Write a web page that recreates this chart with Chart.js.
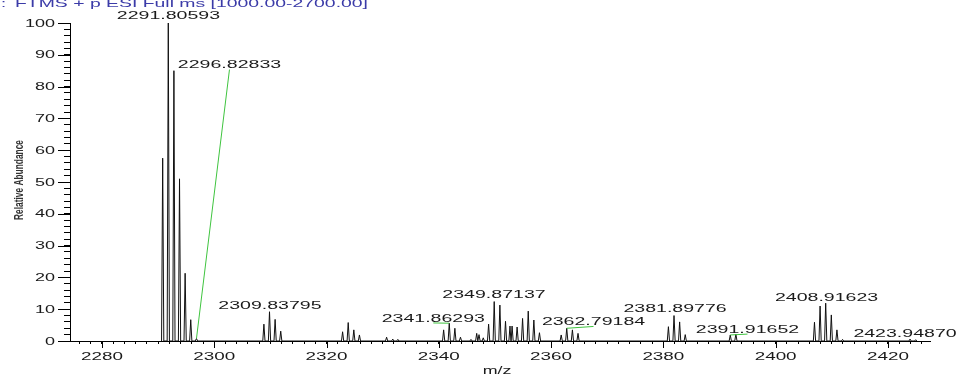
<!DOCTYPE html>
<html>
<head>
<meta charset="utf-8">
<script src="https://cdn.jsdelivr.net/npm/chart.js@4"></script>
<style>
    body { margin: 0; background: #fff; }
    canvas { display: block; }
</style>
</head>
<body>
<canvas id="spectrum" width="958" height="375"></canvas>
<script>
// peak centroids (m/z) and relative abundance
const peakMz = [2290.81, 2291.81, 2292.81, 2293.81, 2294.81, 2295.81, 2296.83,
    2308.84, 2309.84, 2310.84, 2311.84,
    2322.86, 2323.86, 2324.86, 2325.86,
    2330.70, 2331.80, 2332.70,
    2340.86, 2341.86, 2342.86, 2343.86,
    2345.73, 2346.75, 2347.16, 2347.92, 2348.87, 2349.87, 2350.88, 2351.88,
    2352.68, 2353.05, 2353.95, 2354.92, 2355.93, 2356.93, 2357.93,
    2361.80, 2362.79, 2363.80, 2364.80,
    2380.90, 2381.90, 2382.90, 2383.90,
    2391.92, 2392.92,
    2406.92, 2407.92, 2408.92, 2409.92, 2410.92, 2411.92,
    2423.95, 2424.95];
const peakAbund = [57.5, 100, 85, 51, 21.3, 6.7, 0.8,
    5.3, 9.2, 6.8, 3.1,
    2.9, 5.8, 3.5, 1.9,
    1.2, 0.6, 0.5,
    3.5, 5.6, 4.0, 1.2,
    0.5, 2.4, 2.0, 1.0, 5.3, 12.4, 11.3, 6.2,
    4.7, 4.7, 4.4, 7.1, 9.4, 6.6, 2.6,
    1.9, 4.0, 3.5, 2.4,
    4.5, 8.0, 6.0, 2.0,
    1.9, 2.2,
    5.9, 11.0, 11.9, 8.2, 3.5, 0.5,
    0.6, 0.4];

// labelled peaks
const labelText = ["2291.80593", "2296.82833", "2309.83795", "2341.86293", "2349.87137",
    "2362.79184", "2381.89776", "2391.91652", "2408.91623", "2423.94870"];
const labelPeakMz = [2291.81, 2296.83, 2309.84, 2341.86, 2349.87, 2362.79, 2381.90, 2391.92, 2408.92, 2423.95];
const labelPeakAbund = [100, 0.8, 9.2, 5.6, 12.4, 4.0, 8.0, 1.9, 11.9, 0.6];

const xTickLabels = ["2280", "2300", "2320", "2340", "2360", "2380", "2400", "2420"];
const yTickLabels = ["0", "10", "20", "30", "40", "50", "60", "70", "80", "90", "100"];

const titleText = "FTMS + p ESI Full ms [1000.00-2700.00]";
const xTitle = "m/z";
const yTitle = "Relative Abundance";

// where each label text sits (data units: m/z, abundance)
const labelAt = [[2291.84, 102.4], [2302.71, 87.1], [2309.92, 11.2], [2339.02, 7.4], [2349.83, 14.8],
    [2367.56, 6.3], [2382.08, 10.4], [2394.99, 3.9], [2409.07, 13.9], [2423.05, 2.7]];

const FONT = '"Liberation Sans", Arial, sans-serif';

// each profile peak is a thin triangle
function buildProfile() {
    const pts = [];
    const hw = 0.2;
    peakMz.forEach((mz, i) => {
        pts.push({ x: mz - hw, y: 0 });
        pts.push({ x: mz, y: peakAbund[i] });
        pts.push({ x: mz + hw, y: 0 });
    });
    pts.sort((a, b) => a.x - b.x);
    return pts;
}

function wideText(ctx, text, x, y, size, sx, align, color) {
    ctx.save();
    ctx.font = size + "px " + FONT;
    ctx.fillStyle = color || "#1a1a1a";
    ctx.textAlign = align;
    ctx.textBaseline = "alphabetic";
    ctx.translate(x, y);
    ctx.scale(sx, 1);
    ctx.fillText(text, 0, 0);
    ctx.restore();
}

const decorations = {
    id: "decorations",
    afterDraw(chart) {
        const ctx = chart.ctx;
        const xs = chart.scales.x;
        const ys = chart.scales.y;
        const area = chart.chartArea;

        // major ticks
        ctx.save();
        ctx.strokeStyle = "#000";
        ctx.lineWidth = 1;
        ctx.beginPath();
        yTickLabels.forEach(t => {
            const py = Math.round(ys.getPixelForValue(+t)) + 0.5;
            ctx.moveTo(area.left - 12, py);
            ctx.lineTo(area.left, py);
        });
        xTickLabels.forEach(t => {
            const px = Math.round(xs.getPixelForValue(+t)) + 0.5;
            ctx.moveTo(px, area.bottom);
            ctx.lineTo(px, area.bottom + 7);
        });
        ctx.stroke();
        ctx.restore();

        yTickLabels.forEach(t => {
            wideText(ctx, t, area.left - 15, ys.getPixelForValue(+t) + 3.6, 10, 1.8, "right");
        });
        xTickLabels.forEach(t => {
            wideText(ctx, t, xs.getPixelForValue(+t), 360, 11.5, 1.64, "center");
        });

        // peak labels and green leaders
        labelText.forEach((txt, i) => {
            const lx = xs.getPixelForValue(labelAt[i][0]);
            const ly = ys.getPixelForValue(labelAt[i][1]);
            const px = xs.getPixelForValue(labelPeakMz[i]);
            const py = ys.getPixelForValue(labelPeakAbund[i]);
            if (Math.abs(lx - px) > 6) {
                ctx.save();
                ctx.strokeStyle = "#3fc43f";
                ctx.lineWidth = 1;
                ctx.beginPath();
                ctx.moveTo(lx, ly + 5.5);
                ctx.lineTo(px, py);
                ctx.stroke();
                ctx.restore();
            }
            wideText(ctx, txt, lx, ly + 4.1, 11.5, 1.7, "center");
        });

        // header line (cut off at the top like the original)
        wideText(ctx, ":", 1, 6.7, 11.5, 1.6, "left", "#3b3ba8");
        ctx.save();
        ctx.font = "11.5px " + FONT;
        const w = ctx.measureText(titleText).width;
        ctx.restore();
        wideText(ctx, titleText, 15, 6.7, 11.5, 353 / w, "left", "#3b3ba8");

        wideText(ctx, xTitle, 497, 374, 11.5, 1.55, "center");

        // rotated, squeezed y title
        ctx.save();
        ctx.font = "bold 13px " + FONT;
        const yw = ctx.measureText(yTitle).width;
        ctx.translate(22.5, 180);
        ctx.rotate(-Math.PI / 2);
        ctx.scale(80 / yw, 1);
        ctx.fillStyle = "#333";
        ctx.textAlign = "center";
        ctx.textBaseline = "alphabetic";
        ctx.fillText(yTitle, 0, 0);
        ctx.restore();
    }
};

const chart = new Chart(document.getElementById("spectrum").getContext("2d"), {
    type: "line",
    data: {
        datasets: [{
            data: buildProfile(),
            borderColor: "#111",
            borderWidth: 1,
            pointRadius: 0,
            tension: 0,
            fill: false
        }]
    },
    options: {
        responsive: false,
        animation: false,
        events: [],
        layout: { padding: { left: 64, right: 28, top: 23, bottom: 31 } },
        plugins: { legend: { display: false }, tooltip: { enabled: false } },
        scales: {
            x: {
                type: "linear",
                min: 2274.3,
                max: 2427.5,
                border: { display: true, color: "#000", width: 1 },
                grid: { drawOnChartArea: false, drawTicks: true, tickLength: 3, color: "#000" },
                ticks: { display: false, stepSize: 2, includeBounds: false }
            },
            y: {
                min: 0,
                max: 100,
                border: { display: true, color: "#000", width: 1 },
                grid: { drawOnChartArea: false, drawTicks: true, tickLength: 6, color: "#000" },
                ticks: { display: false, stepSize: 2 }
            }
        }
    },
    plugins: [decorations]
});
</script>
</body>
</html>
